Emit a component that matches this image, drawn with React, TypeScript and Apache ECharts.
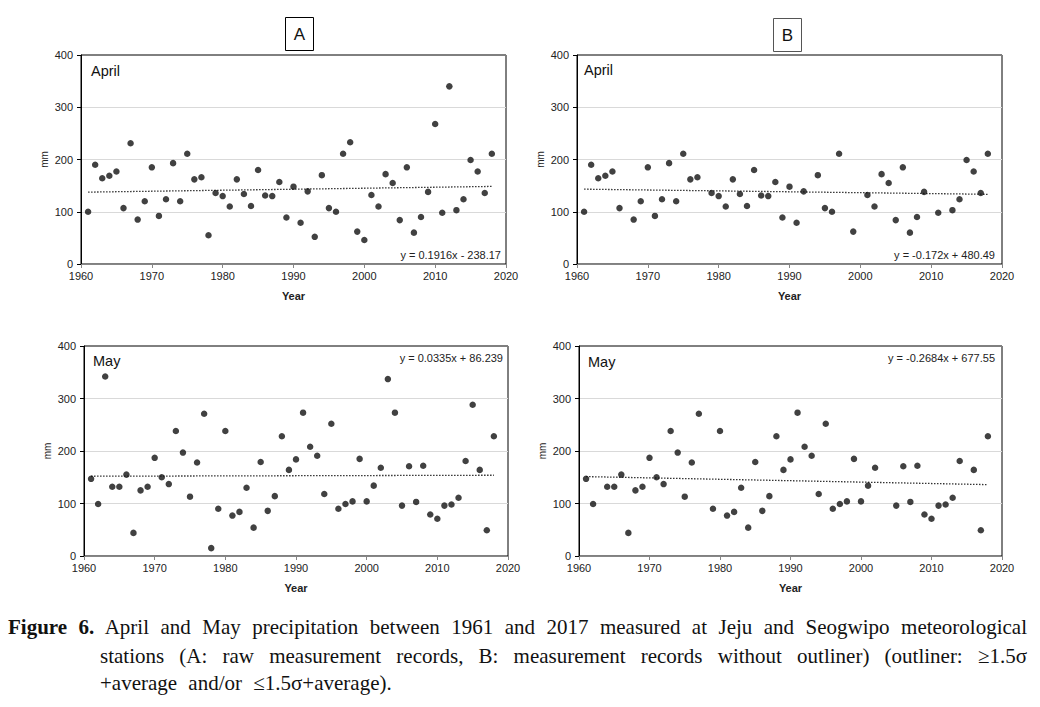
import React, { useEffect, useRef } from "react";
import * as echarts from "echarts";

const years = [
  1961, 1962, 1963, 1964, 1965, 1966, 1967, 1968, 1969, 1970,
  1971, 1972, 1973, 1974, 1975, 1976, 1977, 1978, 1979, 1980,
  1981, 1982, 1983, 1984, 1985, 1986, 1987, 1988, 1989, 1990,
  1991, 1992, 1993, 1994, 1995, 1996, 1997, 1998, 1999, 2000,
  2001, 2002, 2003, 2004, 2005, 2006, 2007, 2008, 2009, 2010,
  2011, 2012, 2013, 2014, 2015, 2016, 2017, 2018,
];

const aprilRaw = [
  100, 190, 164, 169, 177, 107, 231, 85, 120, 185,
  92, 124, 193, 120, 211, 162, 166, 55, 136, 130,
  110, 162, 134, 111, 180, 131, 130, 157, 89, 148,
  79, 139, 52, 170, 107, 100, 211, 233, 62, 46,
  132, 110, 172, 155, 84, 185, 60, 90, 138, 268,
  98, 340, 103, 124, 199, 177, 136, 211,
];

const aprilFiltered = [
  100, 190, 164, 169, 177, 107, null, 85, 120, 185,
  92, 124, 193, 120, 211, 162, 166, null, 136, 130,
  110, 162, 134, 111, 180, 131, 130, 157, 89, 148,
  79, 139, null, 170, 107, 100, 211, null, 62, null,
  132, 110, 172, 155, 84, 185, 60, 90, 138, null,
  98, null, 103, 124, 199, 177, 136, 211,
];

const mayRaw = [
  147, 99, 342, 132, 132, 155, 44, 125, 132, 187,
  150, 137, 238, 197, 113, 178, 271, 15, 90, 238,
  77, 84, 130, 54, 179, 86, 114, 228, 164, 184,
  273, 208, 191, 118, 252, 90, 99, 104, 185, 104,
  134, 168, 337, 273, 96, 171, 103, 172, 79, 71,
  96, 98, 111, 181, 288, 164, 49, 228,
];

const mayFiltered = [
  147, 99, null, 132, 132, 155, 44, 125, 132, 187,
  150, 137, 238, 197, 113, 178, 271, null, 90, 238,
  77, 84, 130, 54, 179, 86, 114, 228, 164, 184,
  273, 208, 191, 118, 252, 90, 99, 104, 185, 104,
  134, 168, null, null, 96, 171, 103, 172, 79, 71,
  96, 98, 111, 181, null, 164, 49, 228,
];

const panelMonths = ["April", "April", "May", "May"];
const trendSlopes = [0.1916, -0.172, 0.0335, -0.2684];
const trendIntercepts = [-238.17, 480.49, 86.239, 677.55];
const trendLabels = [
  "y = 0.1916x - 238.17",
  "y = -0.172x + 480.49",
  "y = 0.0335x + 86.239",
  "y = -0.2684x + 677.55",
];
const xTicks = { min: 1960, max: 2020, interval: 10 };
const yTicks = { min: 0, max: 400, interval: 100 };

const panelData = [aprilRaw, aprilFiltered, mayRaw, mayFiltered];

const grids = [
  { left: 81, top: 55, width: 425, height: 209 },
  { left: 577, top: 55, width: 425, height: 209 },
  { left: 84, top: 346, width: 424, height: 210 },
  { left: 579, top: 346, width: 423, height: 210 },
];

const monthPos = [
  [91, 72],
  [584, 71],
  [93, 362],
  [588, 363],
];
const eqPos = [
  [501, 255],
  [995, 255],
  [503, 358],
  [995, 358],
];

const FONT = "'Liberation Sans', Arial, sans-serif";

export default function App() {
  const ref = useRef<HTMLDivElement>(null);
  useEffect(() => {
    document.body.style.margin = "0";
    const chart = echarts.init(ref.current!, null, { renderer: "svg" });
    const xAxis: any[] = [];
    const yAxis: any[] = [];
    const series: any[] = [];
    const graphic: any[] = [];
    grids.forEach((g, i) => {
      xAxis.push({
        gridIndex: i,
        type: "value",
        min: xTicks.min,
        max: xTicks.max,
        interval: xTicks.interval,
        name: "Year",
        nameLocation: "middle",
        nameGap: 26,
        nameTextStyle: { fontFamily: FONT, fontSize: 11, fontWeight: "bold", color: "#222" },
        axisLine: { show: true, onZero: false, lineStyle: { color: "#868686", width: 1 } },
        axisTick: { show: true, length: 4, lineStyle: { color: "#868686" } },
        axisLabel: {
          fontFamily: FONT,
          fontSize: 11,
          color: "#222",
          margin: 6,
          formatter: (v: number) => String(v),
        },
        splitLine: { show: false },
      });
      yAxis.push({
        gridIndex: i,
        type: "value",
        min: yTicks.min,
        max: yTicks.max,
        interval: yTicks.interval,
        name: "mm",
        nameLocation: "middle",
        nameGap: 32,
        nameRotate: 90,
        nameTextStyle: { fontFamily: FONT, fontSize: 10, color: "#222" },
        axisLine: { show: true, lineStyle: { color: "#000", width: 1 } },
        axisTick: { show: true, length: 4, lineStyle: { color: "#000" } },
        axisLabel: { fontFamily: FONT, fontSize: 11, color: "#222", margin: 8 },
        splitLine: {
          show: true,
          lineStyle: { color: ["#d9d9d9", "#d9d9d9", "#d9d9d9", "#d9d9d9", "#7f7f7f"], width: 1 },
        },
      });
      const vals = panelData[i];
      const pts: any[] = [];
      years.forEach((yr, k) => {
        if (vals[k] !== null && vals[k] !== undefined) pts.push([yr, vals[k]]);
      });
      series.push({
        type: "scatter",
        xAxisIndex: i,
        yAxisIndex: i,
        data: pts,
        symbol: "circle",
        symbolSize: 6.5,
        itemStyle: { color: "#111" },
        z: 3,
      });
      const x0 = years[0];
      const x1 = years[years.length - 1];
      series.push({
        type: "line",
        xAxisIndex: i,
        yAxisIndex: i,
        data: [
          [x0, trendSlopes[i] * x0 + trendIntercepts[i]],
          [x1, trendSlopes[i] * x1 + trendIntercepts[i]],
        ],
        symbol: "none",
        lineStyle: { color: "#333", width: 1.3, type: [1.5, 1.5] },
        z: 2,
      });
      graphic.push({
        type: "text",
        left: monthPos[i][0],
        top: monthPos[i][1] - 9,
        style: { text: panelMonths[i], fontFamily: FONT, fontSize: 14.5, fill: "#111" },
      });
      graphic.push({
        type: "text",
        x: eqPos[i][0],
        y: eqPos[i][1],
        style: {
          text: trendLabels[i],
          fontFamily: FONT,
          fontSize: 11,
          fill: "#222",
          align: "right",
          verticalAlign: "middle",
        },
      });
    });
    // A / B boxes
    graphic.push({
      type: "rect",
      shape: { x: 285.5, y: 17.5, width: 28, height: 33 },
      style: { fill: "#fff", stroke: "#000", lineWidth: 1 },
    });
    graphic.push({
      type: "text",
      x: 299.5,
      y: 34,
      style: { text: "A", fontFamily: FONT, fontSize: 17, fill: "#111", align: "center", verticalAlign: "middle" },
    });
    graphic.push({
      type: "rect",
      shape: { x: 773.5, y: 18.5, width: 28, height: 33 },
      style: { fill: "#fff", stroke: "#555", lineWidth: 1 },
    });
    graphic.push({
      type: "text",
      x: 787.5,
      y: 35,
      style: { text: "B", fontFamily: FONT, fontSize: 17, fill: "#111", align: "center", verticalAlign: "middle" },
    });

    chart.setOption({
      animation: false,
      backgroundColor: "#fff",
      grid: grids.map((g) => ({ ...g, show: true, borderColor: "#000", borderWidth: 1, backgroundColor: "transparent" })),
      xAxis,
      yAxis,
      series,
      graphic,
    });
    return () => chart.dispose();
  }, []);

  const capStyle: React.CSSProperties = {
    position: "absolute",
    fontFamily: "'Liberation Serif', 'Times New Roman', serif",
    fontSize: 21,
    lineHeight: "28px",
    color: "#111",
    textAlign: "justify",
    textAlignLast: "justify" as any,
  };

  return (
    <div style={{ position: "relative", width: 1040, height: 707, background: "#fff", overflow: "hidden" }}>
      <div ref={ref} style={{ position: "absolute", left: 0, top: 0, width: 1040, height: 707 }} />
      <div style={{ ...capStyle, left: 8, top: 613, width: 1019 }}>
        <b>Figure 6.</b> April and May precipitation between 1961 and 2017 measured at Jeju and Seogwipo meteorological
      </div>
      <div style={{ ...capStyle, left: 100, top: 642, width: 927 }}>
        stations (A: raw measurement records, B: measurement records without outliner) (outliner: ≥1.5σ
      </div>
      <div style={{ ...capStyle, left: 100, top: 669, textAlignLast: "left" as any, wordSpacing: 6 }}>
        +average and/or ≤1.5σ+average).
      </div>
    </div>
  );
}
